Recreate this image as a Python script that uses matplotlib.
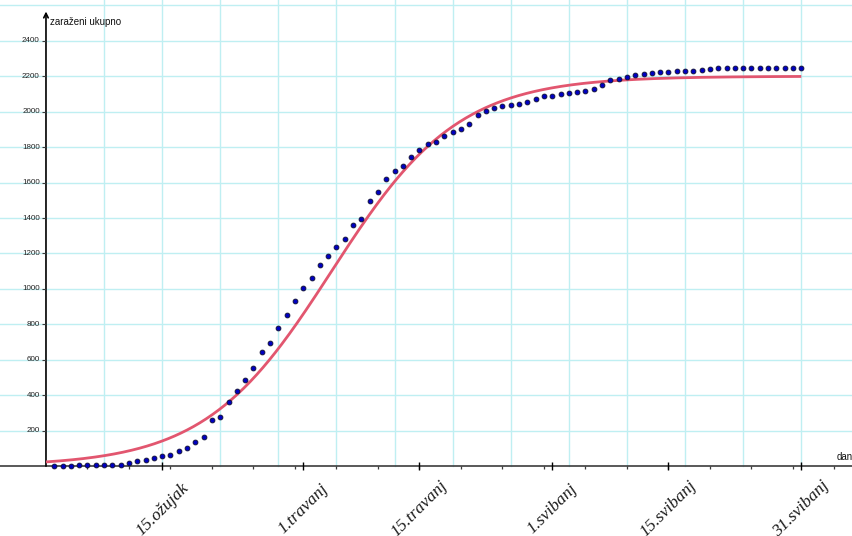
import numpy as np
import matplotlib
matplotlib.use("Agg")
import matplotlib.pyplot as plt
from matplotlib.lines import TICKDOWN, TICKLEFT

# Cumulative number of infected, one value per day (day 1 .. day 91)
days = list(range(1, 92))
infected = [
    0, 0, 2, 4, 4, 5, 6, 6, 8, 19,
    29, 35, 46, 55, 63, 85, 100, 136, 166, 260,
    278, 363, 425, 486, 555, 645, 696, 780, 853, 930,
    1004, 1062, 1136, 1185, 1237, 1281, 1360, 1394, 1495, 1549,
    1619, 1663, 1691, 1743, 1781, 1815, 1828, 1862, 1883, 1901,
    1929, 1984, 2003, 2018, 2031, 2040, 2044, 2057, 2074, 2086,
    2089, 2097, 2104, 2110, 2119, 2128, 2149, 2176, 2183, 2198,
    2206, 2214, 2219, 2223, 2223, 2227, 2229, 2229, 2236, 2238,
    2245, 2245, 2245, 2247, 2247, 2247, 2247, 2247, 2249, 2249,
    2249,
]

# Logistic model  L / (1 + A * exp(-K * t))
L_CAP = 2200.0
A_COEF = 90.7
K_RATE = 0.131
T_START, T_END = 0, 91

# Date labels on the day axis
date_days = [14, 31, 45, 61, 75, 91]
date_labels = ["15.ožujak", "1.travanj", "15.travanj", "1.svibanj", "15.svibanj", "31.svibanj"]

# Value labels on the vertical axis
y_label_values = list(range(200, 2401, 200))

X_MIN, X_MAX = -5.54, 97.23
Y_MIN, Y_MAX = -394, 2630

grid_col = "#bfeff2"
axis_col = "#3c3c3c"

fig = plt.figure(figsize=(8.53, 5.36), dpi=100)
ax = fig.add_axes([0, 0, 1, 1])
ax.set_xlim(X_MIN, X_MAX)
ax.set_ylim(Y_MIN, Y_MAX)
ax.axis("off")

# grid: vertical lines every 7 days (upper half plane), horizontal every 200
for gx in np.arange(7, 100, 7):
    ax.plot([gx, gx], [0, Y_MAX], color=grid_col, lw=1.0, zorder=1)
for gy in np.arange(200, 2700, 200):
    ax.plot([X_MIN, X_MAX], [gy, gy], color=grid_col, lw=1.0, zorder=1)

# axes
ax.plot([X_MIN, X_MAX], [0, 0], color=axis_col, lw=1.2, zorder=2)
ax.annotate("", xy=(0, 2565), xytext=(0, 0),
            arrowprops=dict(arrowstyle="->", color="black", lw=1.2,
                            shrinkA=0, shrinkB=0, mutation_scale=8), zorder=2)

# small ticks on the day axis every 5 days
minor = [d for d in range(5, 100, 5)]
ax.plot(minor, [0] * len(minor), ls="none", marker=TICKDOWN, ms=2.5,
        mew=0.9, color=axis_col, zorder=2)
# cross ticks at the dated positions
ax.plot(date_days, [0] * len(date_days), ls="none", marker="|", ms=6,
        mew=1.0, color="black", zorder=2)
# small ticks on the vertical axis
ax.plot([0] * len(y_label_values), y_label_values, ls="none", marker=TICKLEFT,
        ms=3, mew=0.8, color=axis_col, zorder=2)

for v in y_label_values:
    ax.text(-0.75, v, str(v), ha="right", va="center", fontsize=5.8,
            family="Liberation Sans", color="#222222")

for d, lab in zip(date_days, date_labels):
    ax.text(d, -242, lab, rotation=45, rotation_mode="anchor", ha="center",
            va="center", fontsize=12.5, family="Liberation Serif",
            style="italic", color="#1a1a1a")

ax.text(0.45, 2505, "zaraženi ukupno", ha="left", va="center", fontsize=7,
        family="Liberation Sans", color="#111111")
ax.text(95.2, 50, "dan", ha="left", va="center", fontsize=7,
        family="Liberation Sans", color="#111111")

# fitted logistic curve
t = np.linspace(T_START, T_END, 600)
ax.plot(t, L_CAP / (1 + A_COEF * np.exp(-K_RATE * t)), color="#e2566f",
        lw=2.0, zorder=3, solid_capstyle="butt")

# daily data points
ax.plot(days, infected, ls="none", marker="o", ms=3.5, mfc="#0000c0",
        mec="#101030", mew=0.6, zorder=4)

fig.savefig("out.png", dpi=100)
